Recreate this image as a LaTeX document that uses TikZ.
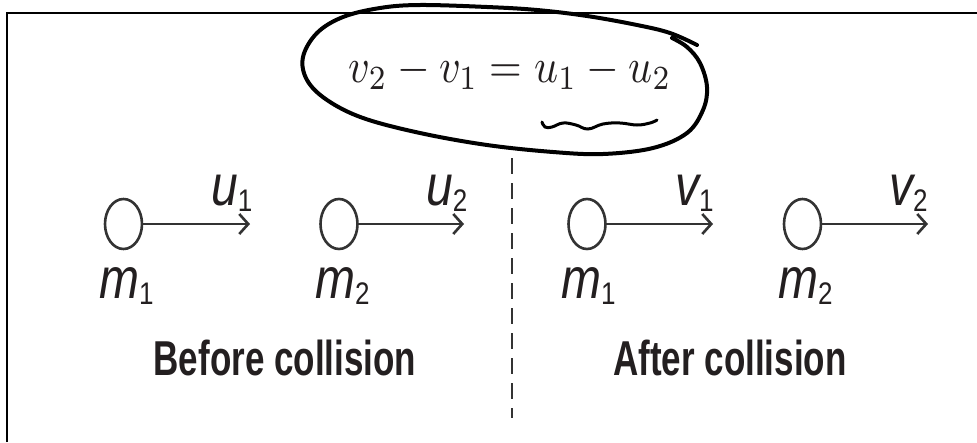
\documentclass[tikz,border=0pt]{standalone}
\usepackage{fontspec}
\usetikzlibrary{arrows.meta,shapes.geometric}
\newfontfamily\labfont{Liberation Sans}
\definecolor{ink}{HTML}{231F20}
\definecolor{ln}{HTML}{333333}
\newcommand{\lbl}[2]{{\labfont\itshape\fontsize{48}{50}\selectfont #1}{\labfont\fontsize{26}{28}\selectfont\raisebox{-5pt}{#2}}}
\tikzset{
  ball/.style={ellipse,draw=ln,line width=2.6pt,minimum width=37pt,minimum height=50pt,inner sep=0pt},
  vel/.style={draw=ln,line width=2.6pt,-{Straight Barb[length=9pt,width=20pt,line width=2.6pt]}},
  lab/.style={anchor=base west,inner sep=0pt,text=ink,yscale=1.2},
  title/.style={anchor=base,inner sep=0pt,text=ink,yscale=1.4,font=\labfont\bfseries\fontsize{35}{40}\selectfont},
  hand/.style={line width=4pt,black,line cap=round,line join=round}
}
\begin{document}
\begin{tikzpicture}[x=1pt,y=-1pt]
\useasboundingbox (0,0) rectangle (977,442);
\fill[white] (0,0) rectangle (977,442);
% frame
\draw[line width=2pt,black] (7,442) -- (7,13) -- (977,13);
% equation
\node[scale=4.2,yscale=1.15,inner sep=0pt,text=ink] (eq) at (510,72) {$v_2 - v_1 = u_1 - u_2$};
% hand-drawn ellipse
\draw[hand] plot[smooth,tension=0.6] coordinates {
 (697,45) (670,33) (637,25) (587,16) (537,10) (487,7) (420,5) (380,8) (343,17)
 (317,33) (303,57) (307,80) (327,100) (363,118) (420,133) (487,145) (553,152)
 (603,154) (653,148) (687,133) (703,110) (707,87) (700,63) (687,47) (672,38)};
% squiggle
\draw[line width=3pt,black,line cap=round] plot[smooth,tension=0.7] coordinates {
 (542,122) (545,127) (552,127) (563,123) (576,125) (588,129) (603,124) (620,123) (637,125) (650,123) (657,120)};
% dashed separator
\coordinate (dtop) at (512,158);
\coordinate (dbot) at (512,418);
\draw[line width=2.2pt,ln,dash pattern=on 16pt off 9pt] (dtop) -- (dbot);
% balls
\node[ball] (b1) at (123.5,224) {};
\node[ball] (b2) at (339,224) {};
\node[ball] (b3) at (587,224) {};
\node[ball] (b4) at (802.5,224) {};
\coordinate (e1) at (250,224);
\coordinate (e2) at (464,224);
\coordinate (e3) at (713,224);
\coordinate (e4) at (928,224);
\draw[vel] (b1.east) -- (e1);
\draw[vel] (b2.east) -- (e2);
\draw[vel] (b3.east) -- (e3);
\draw[vel] (b4.east) -- (e4);
% velocity labels
\node[lab] (u1) at (211,205) {\lbl{u}{1}};
\node[lab] (u2) at (426,205) {\lbl{u}{2}};
\node[lab] (v1) at (675,205) {\lbl{v}{1}};
\node[lab] (v2) at (889,205) {\lbl{v}{2}};
% mass labels
\node[lab] (m1) at (99,298) {\lbl{m}{1}};
\node[lab] (m2) at (315,298) {\lbl{m}{2}};
\node[lab] (m3) at (561,298) {\lbl{m}{1}};
\node[lab] (m4) at (778,298) {\lbl{m}{2}};
% titles
\node[title] (before) at (285,375) {Before collision};
\node[title] (after) at (730,375) {After collision};
\end{tikzpicture}
\end{document}
